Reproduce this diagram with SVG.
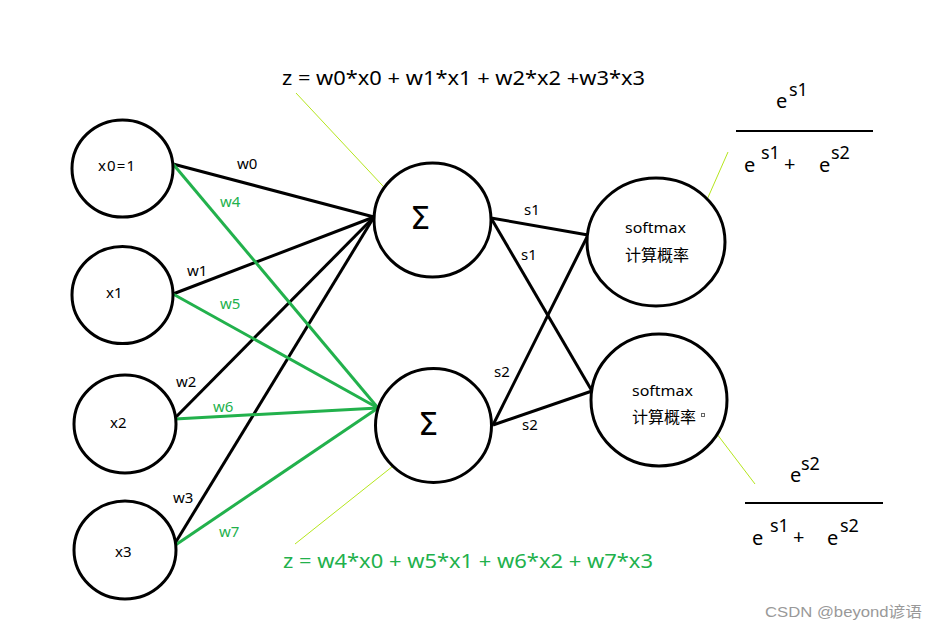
<svg xmlns="http://www.w3.org/2000/svg" width="939" height="631" viewBox="0 0 939 631">
<style>
.n{fill:#fff;stroke:#000;stroke-width:3}
.t{font-family:"Noto Sans","Noto Sans CJK SC",sans-serif;font-size:15px;fill:#000}
.c{font-family:"Noto Sans CJK SC",sans-serif;font-size:16px;fill:#000}
.bl{stroke:#000;stroke-width:3;fill:none}
.gl{stroke:#22b14c;stroke-width:3;fill:none}
.y{stroke:#b5e61d;stroke-width:1;fill:none}
.f{font-family:"Noto Sans","Noto Sans CJK SC",sans-serif;font-size:20px;fill:#000}
.sup{font-family:"Noto Sans",sans-serif;font-size:18px;fill:#000}
.sig{font-family:"DejaVu Sans",sans-serif;font-size:32px;fill:#000}
.g{fill:#22b14c}
</style>
<rect width="939" height="631" fill="#fff"/>
<g id="connectors">
<line class="bl" x1="173" y1="164" x2="374" y2="217"/>
<line class="bl" x1="173" y1="294" x2="374" y2="217"/>
<line class="bl" x1="175" y1="418" x2="374" y2="217"/>
<line class="bl" x1="174" y1="545" x2="374" y2="217"/>
<line class="gl" x1="173" y1="164" x2="378" y2="408"/>
<line class="gl" x1="173" y1="294" x2="378" y2="408"/>
<line class="gl" x1="175" y1="419" x2="378" y2="408"/>
<line class="gl" x1="174" y1="546" x2="378" y2="408"/>
<line class="bl" x1="491" y1="218" x2="588" y2="235"/>
<line class="bl" x1="491" y1="218" x2="592" y2="391"/>
<line class="bl" x1="493" y1="425" x2="588" y2="235"/>
<line class="bl" x1="493" y1="425" x2="592" y2="391"/>
<line class="y" x1="296" y1="93" x2="410" y2="215"/>
<line class="y" x1="728" y1="152" x2="695" y2="227"/>
<line class="y" x1="704" y1="417" x2="755" y2="484"/>
<line class="y" x1="427" y1="439" x2="295" y2="544"/>
</g>
<g id="x0"><ellipse class="n" cx="122.5" cy="168.5" rx="50.5" ry="48.5"/><text class="t" x="98" y="171" textLength="37" lengthAdjust="spacing">x0=1</text></g>
<g id="x1"><ellipse class="n" cx="122.5" cy="295" rx="50.5" ry="48.5"/><text class="t" x="106" y="298">x1</text></g>
<g id="x2"><ellipse class="n" cx="125" cy="424" rx="51" ry="49"/><text class="t" x="110" y="428">x2</text></g>
<g id="x3"><ellipse class="n" cx="125" cy="550" rx="51" ry="49"/><text class="t" x="115" y="557">x3</text></g>
<g id="sum1"><ellipse class="n" cx="432.5" cy="220" rx="58.5" ry="57"/><text class="sig" x="410" y="229">Σ</text></g>
<g id="sum2"><ellipse class="n" cx="433.5" cy="425.5" rx="58" ry="57"/><text class="sig" x="418" y="435">Σ</text></g>
<g id="softmax1"><ellipse class="n" cx="656" cy="242" rx="69" ry="64"/><text class="t" x="625" y="233" textLength="61" lengthAdjust="spacingAndGlyphs">softmax</text><text class="c" x="625" y="261">计算概率</text></g>
<g id="softmax2"><ellipse class="n" cx="659" cy="400" rx="68" ry="66"/><text class="t" x="632" y="396" textLength="61" lengthAdjust="spacingAndGlyphs">softmax</text><text class="c" x="632" y="423">计算概率</text><rect x="701.5" y="413.5" width="3" height="3" fill="none" stroke="#666" stroke-width="1"/></g>
<g id="labels">
<text class="t" x="237" y="169">w0</text>
<text class="t g" x="220" y="207">w4</text>
<text class="t" x="187" y="276">w1</text>
<text class="t g" x="220" y="309">w5</text>
<text class="t" x="176" y="387">w2</text>
<text class="t g" x="213" y="412">w6</text>
<text class="t" x="173" y="503">w3</text>
<text class="t g" x="219" y="537">w7</text>
<text class="t" x="524" y="215">s1</text>
<text class="t" x="521" y="260">s1</text>
<text class="t" x="494" y="377">s2</text>
<text class="t" x="522" y="430">s2</text>
</g>
<g id="formula1"><text class="f" x="282" y="85" textLength="363" lengthAdjust="spacingAndGlyphs">z = w0*x0 + w1*x1 + w2*x2 +w3*x3</text></g>
<g id="formula2"><text class="f g" x="283" y="568" textLength="370" lengthAdjust="spacingAndGlyphs">z = w4*x0 + w5*x1 + w6*x2 + w7*x3</text></g>
<g id="frac1">
<text class="f" x="776" y="108">e</text><text class="sup" x="789" y="96">s1</text>
<line x1="736" y1="131" x2="873" y2="131" stroke="#000" stroke-width="2"/>
<text class="f" x="744" y="172">e</text><text class="sup" x="761" y="159">s1</text>
<text class="f" x="784" y="171">+</text>
<text class="f" x="819" y="172">e</text><text class="sup" x="831" y="159">s2</text>
</g>
<g id="frac2">
<text class="f" x="790" y="482">e</text><text class="sup" x="801" y="470">s2</text>
<line x1="745" y1="503" x2="883" y2="503" stroke="#000" stroke-width="2"/>
<text class="f" x="752" y="545">e</text><text class="sup" x="770" y="532">s1</text>
<text class="f" x="793" y="544">+</text>
<text class="f" x="827" y="545">e</text><text class="sup" x="840" y="532">s2</text>
</g>
<text x="765" y="617" font-family="Liberation Sans,'Noto Sans CJK SC',sans-serif" font-size="15" fill="#999" textLength="157" lengthAdjust="spacingAndGlyphs">CSDN @beyond谚语</text>
</svg>
